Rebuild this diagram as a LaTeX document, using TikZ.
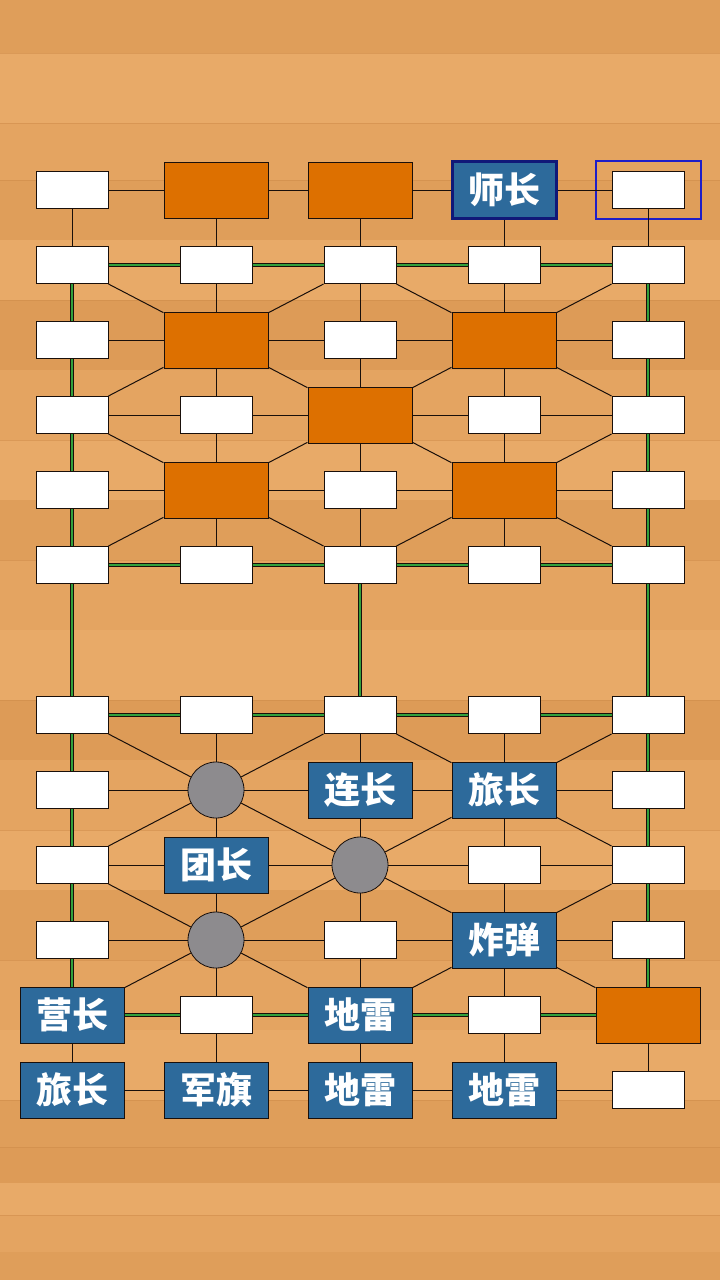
\documentclass[tikz,border=0pt]{standalone}
\usepackage{fontspec}
\newfontfamily\cjk{Noto Sans CJK SC}
\definecolor{woodbase}{RGB}{228,164,97}
\definecolor{woodA}{RGB}{223,158,90}
\definecolor{woodB}{RGB}{232,170,104}
\definecolor{woodC}{RGB}{221,155,87}
\definecolor{woodseam}{RGB}{205,138,72}
\definecolor{pieceorange}{RGB}{221,112,0}
\definecolor{pieceblue}{RGB}{45,106,155}
\definecolor{navyedge}{RGB}{16,24,120}
\definecolor{selblue}{RGB}{30,30,200}
\definecolor{campgray}{RGB}{141,139,142}
\definecolor{railgreen}{RGB}{50,160,60}
\definecolor{lineblack}{RGB}{25,15,10}
\tikzset{
  post/.style={rectangle, draw=lineblack, line width=1pt, fill=white, minimum width=72pt, minimum height=37pt, inner sep=0pt},
  hidden/.style={rectangle, draw=lineblack, line width=1pt, fill=pieceorange, minimum width=104pt, minimum height=56pt, inner sep=0pt},
  mine/.style={rectangle, draw=lineblack, line width=1pt, fill=pieceblue, minimum width=104pt, minimum height=56pt, inner sep=0pt, text=white, font=\cjk\bfseries\fontsize{36}{36}\selectfont},
  picked/.style={mine, draw=navyedge, line width=3pt, minimum width=104pt, minimum height=57pt},
  camp/.style={circle, draw=lineblack, line width=0.8pt, fill=campgray, minimum size=56pt, inner sep=0pt},
  selframe/.style={rectangle, draw=selblue, line width=2pt, minimum width=105pt, minimum height=58pt, inner sep=0pt},
  road/.style={draw=lineblack, line width=1pt},
  rail/.style={draw=lineblack, line width=0.9pt, double=railgreen, double distance=2pt}
}
\begin{document}
\begin{tikzpicture}[x=1pt,y=-1pt]
\useasboundingbox (0,0) rectangle (720,1280);
% wood background
\fill[woodbase] (0,0) rectangle (720,1280);
\foreach \ya/\yb/\col in {0/53/woodA,53/123/woodB,123/180/woodbase,180/240/woodA,240/300/woodB,300/370/woodC,370/440/woodbase,440/500/woodB,500/560/woodA,560/630/woodbase,630/700/woodB,700/760/woodC,760/830/woodbase,830/890/woodB,890/960/woodA,960/1030/woodbase,1030/1100/woodB,1100/1147/woodA,1147/1183/woodC,1183/1215/woodB,1215/1252/woodbase,1252/1280/woodA}
  \fill[\col] (0,\ya) rectangle (720,\yb);
\foreach \ys in {53,123,180,300,440,560,700,830,960,1100,1147,1215}
  \draw[woodseam, line width=0.6pt, opacity=0.5] (0,\ys) -- (720,\ys);

% row 1 (y=190)
\node[post]   (n1-1) at (72,190) {};
\node[hidden] (n2-1) at (216,190) {};
\node[hidden] (n3-1) at (360,190) {};
\node[picked] (n4-1) at (504,190) {师长};
\node[post]   (n5-1) at (648,190) {};
\node[selframe] (sel) at (648,190) {};
% row 2 (y=265)
\node[post] (n1-2) at (72,265) {};
\node[post] (n2-2) at (216,265) {};
\node[post] (n3-2) at (360,265) {};
\node[post] (n4-2) at (504,265) {};
\node[post] (n5-2) at (648,265) {};
% row 3 (y=340)
\node[post]   (n1-3) at (72,340) {};
\node[hidden] (n2-3) at (216,340) {};
\node[post]   (n3-3) at (360,340) {};
\node[hidden] (n4-3) at (504,340) {};
\node[post]   (n5-3) at (648,340) {};
% row 4 (y=415)
\node[post]   (n1-4) at (72,415) {};
\node[post]   (n2-4) at (216,415) {};
\node[hidden] (n3-4) at (360,415) {};
\node[post]   (n4-4) at (504,415) {};
\node[post]   (n5-4) at (648,415) {};
% row 5 (y=490)
\node[post]   (n1-5) at (72,490) {};
\node[hidden] (n2-5) at (216,490) {};
\node[post]   (n3-5) at (360,490) {};
\node[hidden] (n4-5) at (504,490) {};
\node[post]   (n5-5) at (648,490) {};
% row 6 (y=565)
\node[post] (n1-6) at (72,565) {};
\node[post] (n2-6) at (216,565) {};
\node[post] (n3-6) at (360,565) {};
\node[post] (n4-6) at (504,565) {};
\node[post] (n5-6) at (648,565) {};
% row 7 (y=715)
\node[post] (n1-7) at (72,715) {};
\node[post] (n2-7) at (216,715) {};
\node[post] (n3-7) at (360,715) {};
\node[post] (n4-7) at (504,715) {};
\node[post] (n5-7) at (648,715) {};
% row 8 (y=790)
\node[post] (n1-8) at (72,790) {};
\node[camp] (n2-8) at (216,790) {};
\node[mine] (n3-8) at (360,790) {连长};
\node[mine] (n4-8) at (504,790) {旅长};
\node[post] (n5-8) at (648,790) {};
% row 9 (y=865)
\node[post] (n1-9) at (72,865) {};
\node[mine] (n2-9) at (216,865) {团长};
\node[camp] (n3-9) at (360,865) {};
\node[post] (n4-9) at (504,865) {};
\node[post] (n5-9) at (648,865) {};
% row 10 (y=940)
\node[post] (n1-10) at (72,940) {};
\node[camp] (n2-10) at (216,940) {};
\node[post] (n3-10) at (360,940) {};
\node[mine] (n4-10) at (504,940) {炸弹};
\node[post] (n5-10) at (648,940) {};
% row 11 (y=1015)
\node[mine]   (n1-11) at (72,1015) {营长};
\node[post]   (n2-11) at (216,1015) {};
\node[mine]   (n3-11) at (360,1015) {地雷};
\node[post]   (n4-11) at (504,1015) {};
\node[hidden] (n5-11) at (648,1015) {};
% row 12 (y=1090)
\node[mine] (n1-12) at (72,1090) {旅长};
\node[mine] (n2-12) at (216,1090) {军旗};
\node[mine] (n3-12) at (360,1090) {地雷};
\node[mine] (n4-12) at (504,1090) {地雷};
\node[post] (n5-12) at (648,1090) {};

% horizontal roads
\foreach \r in {1,3,4,5,8,9,10,12} {
  \foreach \c/\d in {1/2,2/3,3/4,4/5} {
    \draw[road] (n\c-\r) -- (n\d-\r);
  }
}
% horizontal railways
\foreach \r in {2,6,7,11} {
  \foreach \c/\d in {1/2,2/3,3/4,4/5} {
    \draw[rail] (n\c-\r) -- (n\d-\r);
  }
}
% vertical roads in the middle columns
\foreach \c in {2,3,4} {
  \foreach \r/\s in {1/2,2/3,3/4,4/5,5/6,7/8,8/9,9/10,10/11,11/12} {
    \draw[road] (n\c-\r) -- (n\c-\s);
  }
}
% vertical lines in the outer columns
\foreach \c in {1,5} {
  \draw[road] (n\c-1) -- (n\c-2);
  \foreach \r/\s in {2/3,3/4,4/5,5/6,6/7,7/8,8/9,9/10,10/11} {
    \draw[rail] (n\c-\r) -- (n\c-\s);
  }
  \draw[road] (n\c-11) -- (n\c-12);
}
% central railway across the front
\draw[rail] (n3-6) -- (n3-7);
% diagonals through the camps
\foreach \o in {0,5} {
  \foreach \ca/\ra/\cb/\rb in {1/2/2/3, 3/2/2/3, 1/4/2/3, 2/3/3/4,
                               5/2/4/3, 3/2/4/3, 5/4/4/3, 4/3/3/4,
                               3/4/2/5, 3/4/4/5,
                               1/4/2/5, 1/6/2/5, 3/6/2/5,
                               5/4/4/5, 5/6/4/5, 3/6/4/5} {
    \pgfmathtruncatemacro{\rA}{\ra+\o}
    \pgfmathtruncatemacro{\rB}{\rb+\o}
    \draw[road] (n\ca-\rA) -- (n\cb-\rB);
  }
}
\end{tikzpicture}
\end{document}
